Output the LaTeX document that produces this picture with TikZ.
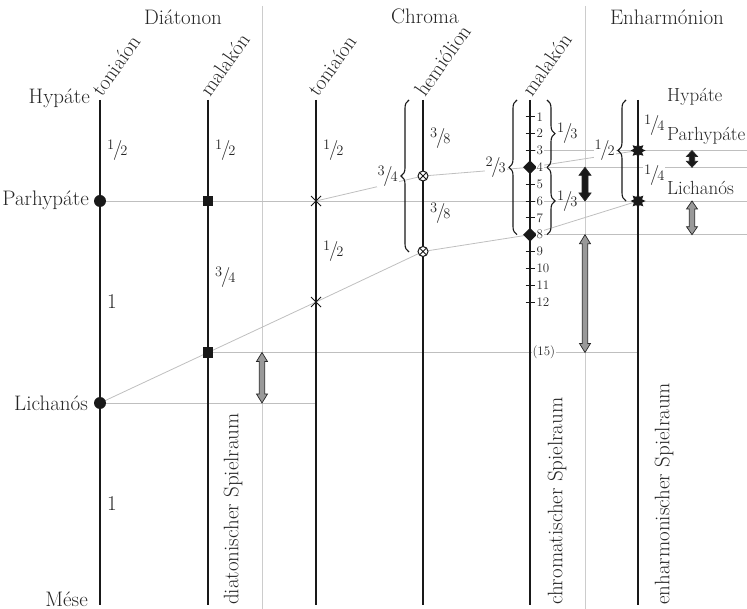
\documentclass[tikz,border=0pt]{standalone}
\usepackage{fontspec}
\usetikzlibrary{shapes.geometric,shapes.misc,decorations.pathreplacing}
\pgfdeclarelayer{bg}
\pgfsetlayers{bg,main}
\newcommand\mainsz{\fontsize{21}{24}\selectfont}
\newcommand\sidesz{\fontsize{19}{22}\selectfont}
\newcommand\ticksz{\fontsize{13}{14}\selectfont}
\newcommand\frc[2]{\raisebox{6pt}{\fontsize{14.5}{14}\selectfont #1}\kern-1.3pt{\fontsize{20}{20}\selectfont/}\kern-1.8pt{\fontsize{14.5}{14}\selectfont #2}}
% fill, x, y1 (top), y2 (bottom), half head width, head length, half shaft width
\newcommand\dblarr[7]{%
  \filldraw[fill=#1, draw=black!85, line width=0.7pt, line join=miter]
  (#2,#3) -- ({#2+#5},{#3+#6}) -- ({#2+#7},{#3+#6}) -- ({#2+#7},{#4-#6})
  -- ({#2+#5},{#4-#6}) -- (#2,#4) -- ({#2-#5},{#4-#6}) -- ({#2-#7},{#4-#6})
  -- ({#2-#7},{#3+#6}) -- ({#2-#5},{#3+#6}) -- cycle;}
\begin{document}
\begin{tikzpicture}[x=1pt,y=-1pt,
  every node/.style={font=\mainsz, text=black!85},
  mainline/.style={line width=1.6pt, draw=black!90},
  guide/.style={line width=0.8pt, draw=black!25},
  sepline/.style={line width=1pt, draw=black!20},
  dotm/.style={circle, fill=black!90, inner sep=0pt, minimum size=12pt},
  sqm/.style={rectangle, fill=black!90, inner sep=0pt, minimum size=10.5pt},
  xm/.style={cross out, draw=black!90, line width=1pt, inner sep=0pt, minimum size=9pt},
  oxm/.style={circle, draw=black!90, fill=white, line width=1pt, inner sep=0pt, minimum size=10pt,
    path picture={\draw[line width=0.9pt] (path picture bounding box.north west) -- (path picture bounding box.south east)
      (path picture bounding box.north east) -- (path picture bounding box.south west);}},
  diam/.style={diamond, fill=black!90, inner sep=0pt, minimum size=14pt},
  enhm/.style={star, star points=8, star point ratio=1.7, fill=black!90, inner sep=0pt, minimum size=15pt},
  ivl/.style={anchor=west, inner sep=1pt},
  wlbl/.style={fill=white, inner sep=1pt},
  ticklbl/.style={font=\ticksz, anchor=west, fill=white, inner sep=0.8pt},
  brc/.style={decorate, decoration={brace, amplitude=8pt}, line width=1.1pt, draw=black!90},
  colname/.style={anchor=base west, rotate=55, inner sep=0pt},
  vlbl/.style={anchor=west, rotate=90, inner sep=0pt},
  sidelbl/.style={anchor=west, inner sep=0pt, font=\sidesz},
]
\useasboundingbox (0,0) rectangle (747,609);

% ---------- coordinates ----------
\foreach \n/\x in {a/100,b/208,c/316,d/423,e/530,f/638}{
  \coordinate (\n top) at (\x,100);
  \coordinate (\n bot) at (\x,605);
}
\coordinate (s1t) at (262,6);  \coordinate (s1b) at (262,609);
\coordinate (s2t) at (585,6);  \coordinate (s2b) at (585,609);
\coordinate (rP) at (747,201);
\coordinate (r3) at (747,150.5);
\coordinate (r4) at (747,167.3);
\coordinate (r8) at (747,234.7);
\coordinate (cLich) at (316,403);
\coordinate (f15) at (638,352.5);
\coordinate (e3) at (530,150.5);

% ---------- main vertical lines ----------
\foreach \n in {a,b,c,d,e,f}{ \draw[mainline] (\n top) -- (\n bot); }

% ---------- ticks ----------
\foreach \k in {1,...,12}{
  \draw[line width=0.9pt, black!90] (525.5,{100+16.8333*\k}) -- (534.5,{100+16.8333*\k});
}

% ---------- markers ----------
\node[dotm] (aP) at (100,201) {};
\node[dotm] (aL) at (100,403) {};
\node[sqm] (bP) at (208,201) {};
\node[sqm] (bL) at (208,352.5) {};
\node[xm] (cP) at (316,201) {};
\node[xm] (cL) at (316,302) {};
\node[oxm] (dP) at (423,176) {};
\node[oxm] (dL) at (423,251.5) {};
\node[diam] (eP) at (530,167.3) {};
\node[diam] (eL) at (530,234.7) {};
\node[enhm] (fP) at (638,150.5) {};
\node[enhm] (fL) at (638,201) {};

% ---------- guide lines (background) ----------
\begin{pgfonlayer}{bg}
  \draw[sepline] (s1t) -- (s1b);
  \draw[sepline] (s2t) -- (s2b);
  \draw[guide] (aP.center) -- (rP);
  \draw[guide] (aL.center) -- (cLich);
  \draw[guide] (bL.center) -- (f15);
  \draw[guide] (e3) -- (r3);
  \draw[guide] (eP.center) -- (r4);
  \draw[guide] (eL.center) -- (r8);
  \draw[guide] (cP.center) -- (dP.center) -- (eP.center) -- (fP.center);
  \draw[guide] (aL.center) -- (bL.center) -- (cL.center) -- (dL.center) -- (eL.center) -- (fL.center);
\end{pgfonlayer}

% ---------- tick labels ----------
\foreach \k in {1,...,12}{
  \node[ticklbl] (t\k) at (535.5,{100+16.8333*\k}) {\k};
}
\node[ticklbl] (t15) at (531.5,352.5) {(15)};

% ---------- braces ----------
\draw[brc] (409,252) -- (409,100);
\draw[brc] (517,234.7) -- (517,100);
\draw[brc] (547,100) -- (547,167.3);
\draw[brc] (547,167.3) -- (547,234.7);
\draw[brc] (626,201) -- (626,100);
\node[wlbl, anchor=east] (b34) at (399,176) {\frc{3}{4}};
\node[wlbl, anchor=east] (b23) at (507,167.3) {\frc{2}{3}};
\node[wlbl, anchor=east] (b12) at (616,150.5) {\frc{1}{2}};
\node[ivl] (b13a) at (556,133.6) {\frc{1}{3}};
\node[ivl] (b13b) at (556,201) {\frc{1}{3}};

% ---------- interval labels ----------
\node[ivl] (ia1) at (106,150.5) {\frc{1}{2}};
\node[ivl] (ia2) at (106,302) {1};
\node[ivl] (ia3) at (106,504) {1};
\node[ivl] (ib1) at (214,150.5) {\frc{1}{2}};
\node[ivl] (ib2) at (214,277) {\frc{3}{4}};
\node[ivl] (ic1) at (322,150.5) {\frc{1}{2}};
\node[ivl] (ic2) at (322,251.5) {\frc{1}{2}};
\node[ivl] (id1) at (429,138) {\frc{3}{8}};
\node[ivl] (id2) at (429,213.5) {\frc{3}{8}};
\node[ivl, fill=white] (if1) at (643,125.5) {\frc{1}{4}};
\node[ivl, fill=white] (if2) at (643,175.5) {\frc{1}{4}};

% ---------- arrows ----------
\dblarr{black!40}{262}{352.5}{403}{5.5}{9}{2.7}
\dblarr{black!40}{585}{234.7}{352.5}{5.5}{9}{2.7}
\dblarr{black!40}{692}{201}{234.7}{5.5}{8}{2.7}
\dblarr{black!90}{585}{167.3}{201}{6}{8}{3}
\dblarr{black!90}{692}{150.5}{167.3}{5.5}{6}{2.7}

% ---------- headers ----------
\node (hDia) at (183,17) {Diátonon};
\node (hChr) at (425,16) {Chroma};
\node (hEnh) at (667,17) {Enharmónion};

\node[colname] (nA) at (102,98) {toniaíon};
\node[colname] (nB) at (210,98) {malakón};
\node[colname] (nC) at (318,98) {toniaíon};
\node[colname] (nD) at (425,98) {hemiólion};
\node[colname] (nE) at (532,98) {malakón};

% ---------- note names ----------
\node[anchor=east, inner sep=0pt] (lH) at (90,98) {Hypáte};
\node[anchor=east, inner sep=0pt] (lP) at (89,200) {Parhypáte};
\node[anchor=east, inner sep=0pt] (lL) at (88,403) {Lichanós};
\node[anchor=east, inner sep=0pt] (lM) at (88,599) {Mése};

\node[sidelbl] (rH) at (667,97) {Hypáte};
\node[sidelbl] (rPh) at (667,136) {Parhypáte};
\node[sidelbl] (rL) at (667,188) {Lichanós};

% ---------- vertical labels ----------
\node[vlbl] (vD) at (233,605) {diatonischer Spielraum};
\node[vlbl] (vC) at (557,605) {chromatischer Spielraum};
\node[vlbl] (vE) at (664,605) {enharmonischer Spielraum};
\end{tikzpicture}
\end{document}
